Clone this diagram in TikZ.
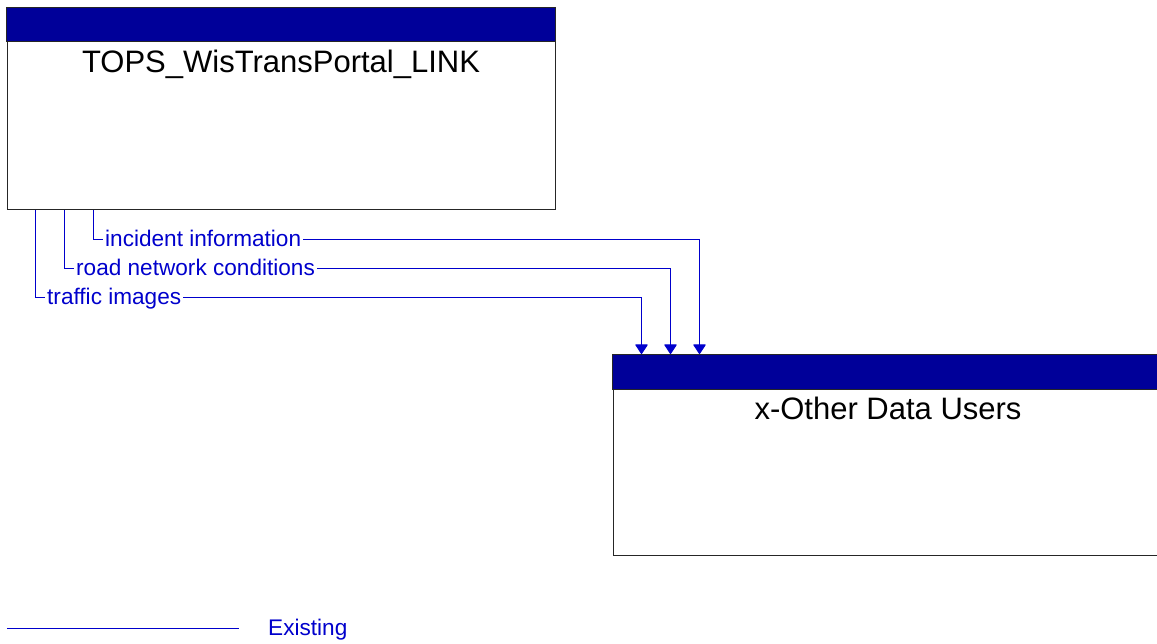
\documentclass[tikz,border=0pt]{standalone}
\usepackage{fontspec}
\setmainfont{Liberation Sans}
\usetikzlibrary{arrows.meta,positioning}
\definecolor{flowblue}{RGB}{0,0,204}
\definecolor{headblue}{RGB}{0,0,153}

\begin{document}
\begin{tikzpicture}[
  x=1pt,y=-1pt,
  every node/.style={inner sep=0pt},
  element/.style={draw=black!85,line width=1pt,fill=white,minimum height=201pt},
  header/.style={draw=black!85,line width=1pt,fill=headblue},
  title/.style={font=\fontsize{31}{36}\selectfont,anchor=base},
  flowlabel/.style={font=\fontsize{22.6}{26}\selectfont,text=flowblue,anchor=west,inner xsep=2pt,text height=16pt,text depth=2pt},
  flow/.style={draw=flowblue,line width=1pt},
  flowarrow/.style={flow,-{Triangle[width=13pt,length=10pt,round=false]}}
]
\useasboundingbox (0,0) rectangle (1157,643);

% elements
\node[element,minimum width=548pt] (tops) at (281,108.5) {};
\draw[header] (tops.north west) rectangle ([yshift=-34pt]tops.north east);
\node[title] (tops-name) at (281,72) {TOPS\_WisTransPortal\_LINK};

\node[element,minimum width=552pt] (others) at (889,455) {};
\draw[header] (others.north west) rectangle ([yshift=-35pt]others.north east);
\node[title] (others-name) at (888,419) {x-Other Data Users};

% flows
\node[flowlabel] (incident) at (103,239) {incident information};
\node[flowlabel] (conditions) at (74,268) {road network conditions};
\node[flowlabel] (images) at (45,297) {traffic images};

\draw[flow] ([xshift=87pt]tops.south west) |- (incident.west);
\draw[flowarrow] (incident.east) -| ([xshift=87pt]others.north west);
\draw[flow] ([xshift=58pt]tops.south west) |- (conditions.west);
\draw[flowarrow] (conditions.east) -| ([xshift=58pt]others.north west);
\draw[flow] ([xshift=29pt]tops.south west) |- (images.west);
\draw[flowarrow] (images.east) -| ([xshift=29pt]others.north west);

% legend
\coordinate (legend-start) at (7,628);
\coordinate (legend-end) at (239,628);
\draw[flow] (legend-start) -- (legend-end);
\node[flowlabel] (existing) at (266,628) {Existing};
\end{tikzpicture}
\end{document}
